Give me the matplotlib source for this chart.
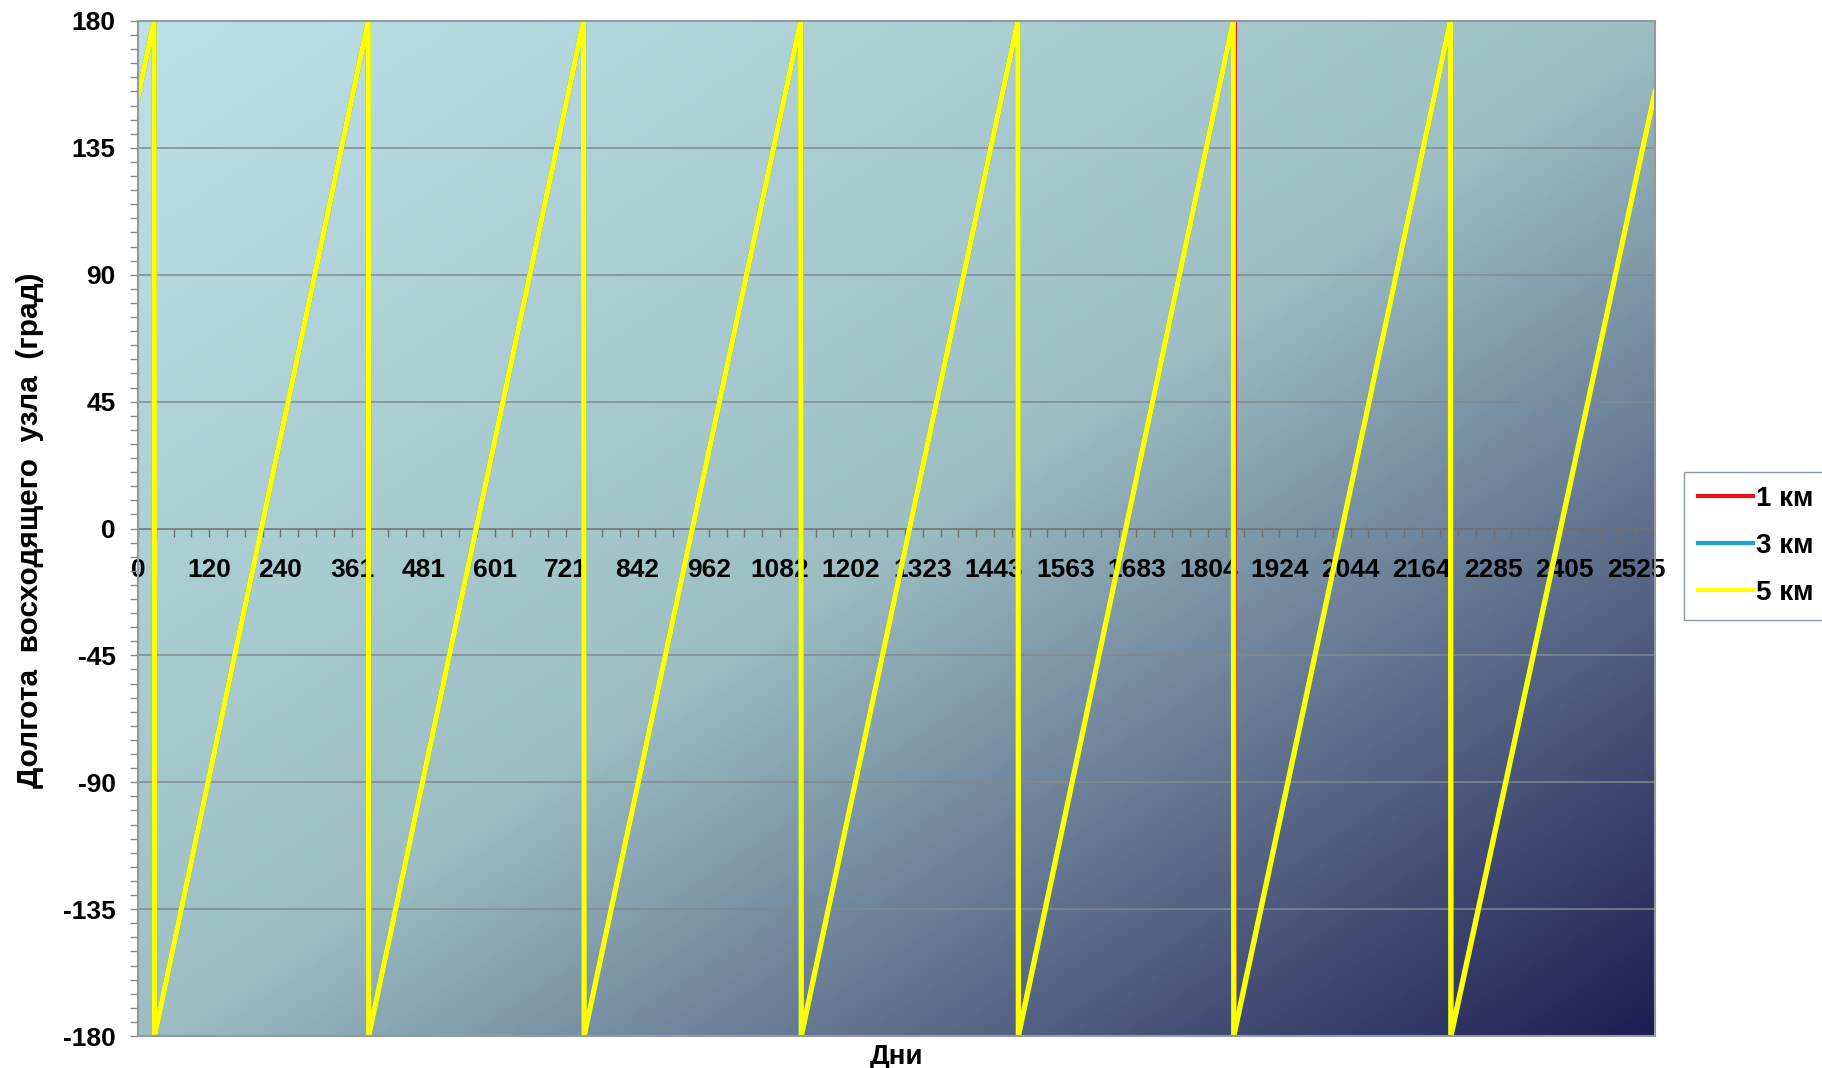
import numpy as np
import matplotlib
matplotlib.use("Agg")
import matplotlib.pyplot as plt
from matplotlib.colors import LinearSegmentedColormap
from matplotlib.patches import Rectangle

plt.rcParams['font.family'] = ['Liberation Sans', 'DejaVu Sans']
plt.rcParams['font.weight'] = 'bold'

# Долгота восходящего узла (град) по дням, три варианта
days_1km = [0, 27, 28, 388, 389, 751, 752, 1117, 1118, 1483, 1484, 1846, 1850, 1850, 1847, 2212, 2213, 2557]
lon_1km = [153, 180, -180, 180, -180, 180, -180, 180, -180, 180, -180, 180, 180, -180, -180, 180, -180, 155]

days_3km = [0, 27, 28, 388, 389, 751, 752, 1117, 1118, 1483, 1484, 1846, 1847, 2212, 2213, 2557]
lon_3km = [153, 180, -180, 180, -180, 180, -180, 180, -180, 180, -180, 180, -180, 180, -180, 155]

days_5km = [0, 27, 28, 388, 389, 751, 752, 1117, 1118, 1483, 1484, 1846, 1847, 2212, 2213, 2557]
lon_5km = [153, 180, -180, 180, -180, 180, -180, 180, -180, 180, -180, 180, -180, 180, -180, 155]

x_labels = ['0', '120', '240', '361', '481', '601', '721', '842', '962', '1082', '1202',
            '1323', '1443', '1563', '1683', '1804', '1924', '2044', '2164', '2285', '2405', '2525']
y_ticks = [-180, -135, -90, -45, 0, 45, 90, 135, 180]

fig = plt.figure(figsize=(18.22, 10.68), dpi=100)
ax = fig.add_axes([138/1822, 1 - 1036/1068, (1655-138)/1822, (1036-21)/1068])

# фон с градиентом
cmap = LinearSegmentedColormap.from_list('bg', ['#bde1e7', '#9dbfc4', '#1e1d52'])
U, V = np.meshgrid(np.linspace(0, 1, 500), np.linspace(0, 1, 400))
ax.imshow((U + V) / 2, cmap=cmap, extent=[0, 1, 0, 1], transform=ax.transAxes,
          aspect='auto', origin='upper', zorder=0, interpolation='bilinear')

for y in y_ticks:
    if y not in (0, 180, -180):
        ax.axhline(y, color='#808a90', lw=1.1, zorder=1)

ax.plot(days_1km, lon_1km, color='#e8141a', lw=2.0, zorder=3, label='1 км')
ax.plot(days_3km, lon_3km, color='#1ba1d6', lw=3.8, zorder=4, label='3 км')
ax.plot(days_5km, lon_5km, color='#ffff00', lw=3.8, zorder=5, label='5 км')

ax.set_xlim(0, 2557)
ax.set_ylim(-180, 180)

for s in ['top', 'right', 'left']:
    ax.spines[s].set_visible(False)
ax.spines['bottom'].set_position(('data', 0))
ax.spines['bottom'].set_color('#707070')
ax.spines['bottom'].set_linewidth(1.1)
ax.spines['bottom'].set_zorder(2)
ax.add_patch(Rectangle((0, 0), 1, 1, transform=ax.transAxes, fill=False,
                       ec='#909aa0', lw=1.5, zorder=6, clip_on=False))

xt = [int(l) for l in x_labels]
ax.set_xticks(xt)
ax.set_xticklabels(x_labels)
minor_x = []
for a, b in zip(xt[:-1], xt[1:]):
    minor_x += list(np.linspace(a, b, 5)[1:-1])
minor_x.append(2555)
ax.set_xticks(minor_x, minor=True)
ax.tick_params(axis='x', which='both', direction='out', length=6, width=1,
               color='#707070', pad=15, labelsize=19)

ax.set_yticks(y_ticks)
ax.set_yticklabels([str(v) for v in y_ticks])
ax.set_yticks(np.arange(-180, 181, 5), minor=True)
ax.tick_params(axis='y', which='both', direction='out', length=6, width=1,
               color='#8a8a8a', pad=10, labelsize=19)

fig.text(30/1822, 1 - 530/1068, 'Долгота  восходящего  узла  (град)', rotation=90,
         ha='center', va='center', fontsize=21.5, fontweight='bold')
fig.text(896/1822, 1 - 1064/1068, 'Дни', ha='center', va='baseline',
         fontsize=20, fontweight='bold')

fig.legend(loc='center left', bbox_to_anchor=(1684/1822, 1 - 546/1068),
           frameon=True, fancybox=False, edgecolor='#8a9aa8', framealpha=1,
           prop={'size': 20, 'weight': 'bold'}, handlelength=2.0,
           handletextpad=0.1, labelspacing=0.75, borderpad=0.5, borderaxespad=0)
for line in fig.legends[0].get_lines():
    line.set_linewidth(3)

fig.savefig('out.png', dpi=100)
